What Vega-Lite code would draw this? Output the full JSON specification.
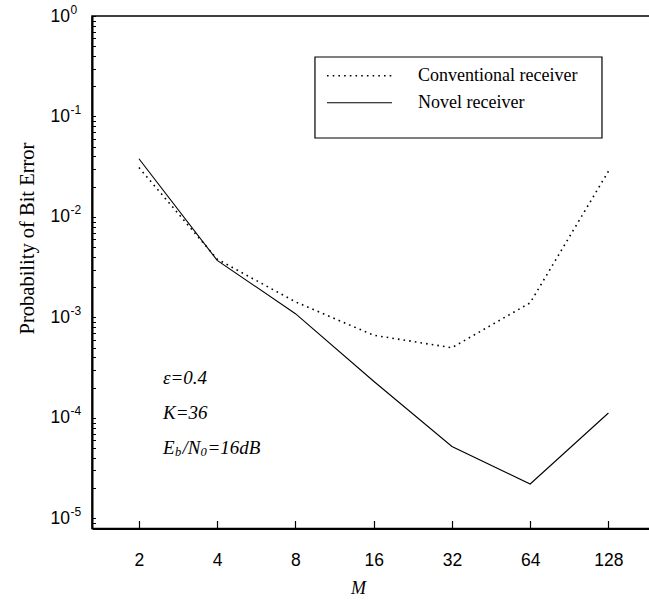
{
  "$schema": "https://vega.github.io/schema/vega-lite/v6.json",
  "width": 560,
  "height": 512.5,
  "autosize": {"type": "none"},
  "padding": {"left": 92, "top": 16, "right": 0, "bottom": 71.5},
  "background": "white",
  "config": {
    "view": {"stroke": "black", "strokeWidth": 1.5},
    "axis": {"grid": false, "domainColor": "black", "domainWidth": 2, "tickColor": "black", "labelColor": "black", "titleColor": "black"}
  },
  "resolve": {"scale": {"y": "shared", "x": "shared"}, "axis": {"y": "independent"}},
  "datasets": {
    "ber": [
      {"receiver": "Conventional receiver", "M": 2, "p": 0.031},
      {"receiver": "Conventional receiver", "M": 4, "p": 0.0038},
      {"receiver": "Conventional receiver", "M": 8, "p": 0.00143},
      {"receiver": "Conventional receiver", "M": 16, "p": 0.000665},
      {"receiver": "Conventional receiver", "M": 32, "p": 0.0005},
      {"receiver": "Conventional receiver", "M": 64, "p": 0.0014},
      {"receiver": "Conventional receiver", "M": 128, "p": 0.0285},
      {"receiver": "Novel receiver", "M": 2, "p": 0.038},
      {"receiver": "Novel receiver", "M": 4, "p": 0.0037},
      {"receiver": "Novel receiver", "M": 8, "p": 0.00109},
      {"receiver": "Novel receiver", "M": 16, "p": 0.000232},
      {"receiver": "Novel receiver", "M": 32, "p": 0.000052},
      {"receiver": "Novel receiver", "M": 64, "p": 0.000022},
      {"receiver": "Novel receiver", "M": 128, "p": 0.000112}
    ]
  },
  "layer": [
    {
      "data": {"name": "ber"},
      "transform": [{"filter": "datum.receiver === 'Conventional receiver'"}],
      "mark": {"type": "line", "color": "black", "strokeWidth": 1.6, "strokeDash": [1.6, 4.1]},
      "encoding": {
        "x": {
          "field": "M", "type": "quantitative",
          "scale": {"type": "log", "base": 2, "domain": [1.3195, 188.3], "nice": false, "zero": false},
          "axis": {
            "values": [2, 4, 8, 16, 32, 64, 128], "format": "d",
            "tickSize": -8, "tickWidth": 1.2, "labelPadding": 31,
            "labelFont": "Liberation Sans", "labelFontSize": 17.5, "labelOverlap": false, "labelFlush": false,
            "title": "M", "titleFont": "Liberation Serif", "titleFontStyle": "italic", "titleFontWeight": "normal",
            "titleFontSize": 18, "titleX": 266, "titleY": 60, "titleBaseline": "middle"
          }
        },
        "y": {
          "field": "p", "type": "quantitative",
          "scale": {"type": "log", "domain": [0.00000794, 1], "nice": false, "zero": false},
          "axis": {
            "orient": "left",
            "values": [1, 0.9, 0.8, 0.7, 0.6, 0.5, 0.4, 0.3, 0.2, 0.1, 0.09, 0.08, 0.07, 0.06, 0.05, 0.04, 0.03, 0.02, 0.01, 0.009, 0.008, 0.007, 0.006, 0.005, 0.004, 0.003, 0.002, 0.001, 0.0009, 0.0008, 0.0007, 0.0006, 0.0005, 0.0004, 0.0003, 0.0002, 0.0001, 0.00009, 0.00008, 0.00007, 0.00006, 0.00005, 0.00004, 0.00003, 0.00002, 0.00001, 0.000009, 0.000008],
            "labelExpr": "abs(log(datum.value)/LN10 - round(log(datum.value)/LN10)) < 0.001 ? '10' : ''",
            "tickSize": -3.5, "tickWidth": 1, "labelPadding": 26,
            "labelFont": "Liberation Sans", "labelFontSize": 17.5, "labelOverlap": false, "labelFlush": false, "labelBound": false,
            "title": "Probability of Bit Error", "titleFont": "Liberation Serif", "titleFontWeight": "normal",
            "titleFontSize": 20.5, "titleX": -64.5, "titleY": 222, "titleBaseline": "middle", "titleAngle": -90
          }
        }
      }
    },
    {
      "data": {"name": "ber"},
      "transform": [{"filter": "datum.receiver === 'Novel receiver'"}],
      "mark": {"type": "line", "color": "black", "strokeWidth": 1.1},
      "encoding": {
        "x": {"field": "M", "type": "quantitative"},
        "y": {
          "field": "p", "type": "quantitative",
          "axis": {
            "orient": "left",
            "values": [1, 0.1, 0.01, 0.001, 0.0001, 0.00001],
            "labelExpr": "datum.value >= 0.5 ? '0' : '-' + abs(round(log(datum.value)/LN10))",
            "ticks": false, "domain": false, "labelPadding": 22, "labelAlign": "left", "labelOffset": -7,
            "labelFont": "Liberation Sans", "labelFontSize": 12, "labelOverlap": false, "labelFlush": false, "labelBound": false,
            "title": null
          }
        }
      }
    },
    {
      "data": {"values": [{}]},
      "mark": {"type": "rect", "fill": "white", "stroke": "black", "strokeWidth": 1.2},
      "encoding": {
        "x": {"datum": 9.51, "type": "quantitative"},
        "x2": {"datum": 120.9},
        "y": {"datum": 0.391, "type": "quantitative", "axis": null},
        "y2": {"datum": 0.0611}
      }
    },
    {
      "data": {"values": [{}]},
      "mark": {"type": "rule", "color": "black", "strokeWidth": 1.6, "strokeDash": [1.6, 4.1]},
      "encoding": {
        "x": {"datum": 10.58, "type": "quantitative"},
        "x2": {"datum": 18.82},
        "y": {"datum": 0.2547, "type": "quantitative", "axis": null}
      }
    },
    {
      "data": {"values": [{}]},
      "mark": {"type": "rule", "color": "black", "strokeWidth": 1.1},
      "encoding": {
        "x": {"datum": 10.58, "type": "quantitative"},
        "x2": {"datum": 18.82},
        "y": {"datum": 0.1372, "type": "quantitative", "axis": null}
      }
    },
    {
      "data": {"values": [{"label": "Conventional receiver", "ly": 0.2547}, {"label": "Novel receiver", "ly": 0.1372}]},
      "mark": {"type": "text", "align": "left", "baseline": "middle", "font": "Liberation Serif", "fontSize": 18, "color": "black"},
      "encoding": {
        "x": {"datum": 23.69, "type": "quantitative"},
        "y": {"field": "ly", "type": "quantitative", "axis": null},
        "text": {"field": "label"}
      }
    },
    {
      "data": {"values": [{"note": "ε=0.4", "ny": 0.00025}, {"note": "K=36", "ny": 0.0001122}]},
      "mark": {"type": "text", "align": "left", "baseline": "middle", "font": "Liberation Serif", "fontStyle": "italic", "fontSize": 19, "color": "black"},
      "encoding": {
        "x": {"datum": 2.474, "type": "quantitative"},
        "y": {"field": "ny", "type": "quantitative", "axis": null},
        "text": {"field": "note"}
      }
    },
    {
      "data": {"values": [{}]},
      "mark": {"type": "text", "align": "left", "baseline": "middle", "font": "Liberation Serif", "fontStyle": "italic", "fontSize": 19, "color": "black", "text": "E"},
      "encoding": {"x": {"datum": 2.474, "type": "quantitative"}, "y": {"datum": 0.0000503, "type": "quantitative", "axis": null}}
    },
    {
      "data": {"values": [{}]},
      "mark": {"type": "text", "align": "left", "baseline": "middle", "font": "Liberation Serif", "fontStyle": "italic", "fontSize": 12.5, "color": "black", "text": "b", "dx": 12, "dy": 4.5},
      "encoding": {"x": {"datum": 2.474, "type": "quantitative"}, "y": {"datum": 0.0000503, "type": "quantitative", "axis": null}}
    },
    {
      "data": {"values": [{}]},
      "mark": {"type": "text", "align": "left", "baseline": "middle", "font": "Liberation Serif", "fontStyle": "italic", "fontSize": 19, "color": "black", "text": "/N", "dx": 19.5},
      "encoding": {"x": {"datum": 2.474, "type": "quantitative"}, "y": {"datum": 0.0000503, "type": "quantitative", "axis": null}}
    },
    {
      "data": {"values": [{}]},
      "mark": {"type": "text", "align": "left", "baseline": "middle", "font": "Liberation Serif", "fontStyle": "italic", "fontSize": 12.5, "color": "black", "text": "0", "dx": 37.5, "dy": 4.5},
      "encoding": {"x": {"datum": 2.474, "type": "quantitative"}, "y": {"datum": 0.0000503, "type": "quantitative", "axis": null}}
    },
    {
      "data": {"values": [{}]},
      "mark": {"type": "text", "align": "left", "baseline": "middle", "font": "Liberation Serif", "fontStyle": "italic", "fontSize": 19, "color": "black", "text": "=16dB", "dx": 44.5},
      "encoding": {"x": {"datum": 2.474, "type": "quantitative"}, "y": {"datum": 0.0000503, "type": "quantitative", "axis": null}}
    }
  ]
}
